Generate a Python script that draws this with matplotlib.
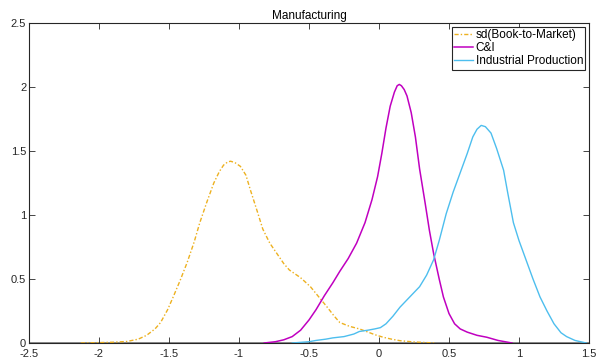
import matplotlib
matplotlib.use("Agg")
import matplotlib.pyplot as plt

plt.rcParams['font.family'] = ['Liberation Sans', 'DejaVu Sans']

# =====================================
# Density estimates
# =====================================
btm_x = [-2.13, -2.0, -1.9, -1.8, -1.72, -1.66, -1.60, -1.56, -1.51, -1.47, -1.42, -1.37,
         -1.32, -1.28, -1.23, -1.18, -1.14, -1.11, -1.08, -1.06, -1.03, -0.99, -0.95, -0.92,
         -0.87, -0.83, -0.78, -0.73, -0.68, -0.64, -0.56, -0.49, -0.43, -0.37, -0.32, -0.28,
         -0.21, -0.14, -0.09, -0.03, 0.03, 0.09, 0.15, 0.25, 0.40]
btm_y = [0.0, 0.003, 0.006, 0.012, 0.03, 0.06, 0.11, 0.16, 0.26, 0.36, 0.49, 0.63,
         0.79, 0.94, 1.10, 1.25, 1.34, 1.39, 1.415, 1.42, 1.41, 1.38, 1.31, 1.20,
         1.03, 0.89, 0.78, 0.70, 0.62, 0.57, 0.51, 0.44, 0.36, 0.28, 0.21, 0.16,
         0.13, 0.11, 0.09, 0.065, 0.045, 0.03, 0.018, 0.008, 0.0]

ci_x = [-0.82, -0.74, -0.68, -0.62, -0.56, -0.50, -0.45, -0.39, -0.33, -0.28, -0.22, -0.16,
        -0.10, -0.05, -0.01, 0.02, 0.05, 0.08, 0.11, 0.13, 0.145, 0.16, 0.18, 0.20, 0.23,
        0.26, 0.29, 0.33, 0.36, 0.39, 0.43, 0.46, 0.50, 0.54, 0.58, 0.63, 0.70, 0.77, 0.85,
        0.95]
ci_y = [0.0, 0.01, 0.025, 0.05, 0.10, 0.18, 0.26, 0.37, 0.47, 0.56, 0.66, 0.78,
        0.94, 1.12, 1.30, 1.48, 1.68, 1.85, 1.96, 2.01, 2.02, 2.01, 1.98, 1.93, 1.80,
        1.61, 1.36, 1.09, 0.88, 0.70, 0.50, 0.36, 0.23, 0.15, 0.11, 0.085, 0.06, 0.045, 0.02,
        0.0]

ip_x = [-0.62, -0.50, -0.45, -0.38, -0.33, -0.25, -0.18, -0.14, -0.08, -0.03, 0.01, 0.05,
        0.10, 0.15, 0.22, 0.29, 0.34, 0.39, 0.43, 0.48, 0.53, 0.58, 0.63, 0.67, 0.70, 0.73,
        0.76, 0.80, 0.84, 0.89, 0.92, 0.96, 1.00, 1.05, 1.10, 1.15, 1.20, 1.25, 1.30, 1.34,
        1.40, 1.48]
ip_y = [0.0, 0.01, 0.02, 0.03, 0.04, 0.05, 0.07, 0.09, 0.10, 0.11, 0.12, 0.15,
        0.21, 0.28, 0.36, 0.44, 0.53, 0.65, 0.80, 1.01, 1.18, 1.33, 1.48, 1.61, 1.67, 1.70,
        1.69, 1.64, 1.52, 1.35, 1.17, 0.94, 0.80, 0.65, 0.50, 0.36, 0.25, 0.15, 0.08, 0.05,
        0.02, 0.0]

# =====================================
# Plot
# =====================================
fig = plt.figure(figsize=(6.02, 3.63), dpi=100)
ax = fig.add_axes([29 / 602, 20 / 363, 560 / 602, 320 / 363])

ax.axhline(0, color='#808080', lw=2, zorder=1)
ax.plot(btm_x, btm_y, color='#EDB120', lw=1, ls=(0, (3, 1.5, 1, 1.5)), label='sd(Book-to-Market)')
ax.plot(ci_x, ci_y, color='#C000C0', lw=1.1, label='C&I')
ax.plot(ip_x, ip_y, color='#4DBEEE', lw=1, label='Industrial Production')

ax.set_xlim(-2.5, 1.5)
ax.set_ylim(0, 2.5)
ax.set_xticks([-2.5, -2, -1.5, -1, -0.5, 0, 0.5, 1, 1.5])
ax.set_xticklabels(['-2.5', '-2', '-1.5', '-1', '-0.5', '0', '0.5', '1', '1.5'])
ax.set_yticks([0, 0.5, 1, 1.5, 2, 2.5])
ax.set_yticklabels(['0', '0.5', '1', '1.5', '2', '2.5'])
ax.tick_params(direction='in', top=True, right=True, labelsize=8, length=4,
               width=0.6, colors='#262626')
ax.tick_params(axis='x', pad=4)
ax.tick_params(axis='y', pad=2)
for s in ax.spines.values():
    s.set_linewidth(0.8)
    s.set_color('#262626')
ax.set_title('Manufacturing', fontsize=8.5, pad=3)

leg = ax.legend(loc='upper right', fontsize=8.5, handlelength=1.6, handletextpad=0.2,
                borderpad=0.2, labelspacing=0.1, borderaxespad=0.3, fancybox=False,
                framealpha=1)
leg.get_frame().set_edgecolor('#262626')
leg.get_frame().set_linewidth(0.8)

fig.savefig('out.png', dpi=100)
